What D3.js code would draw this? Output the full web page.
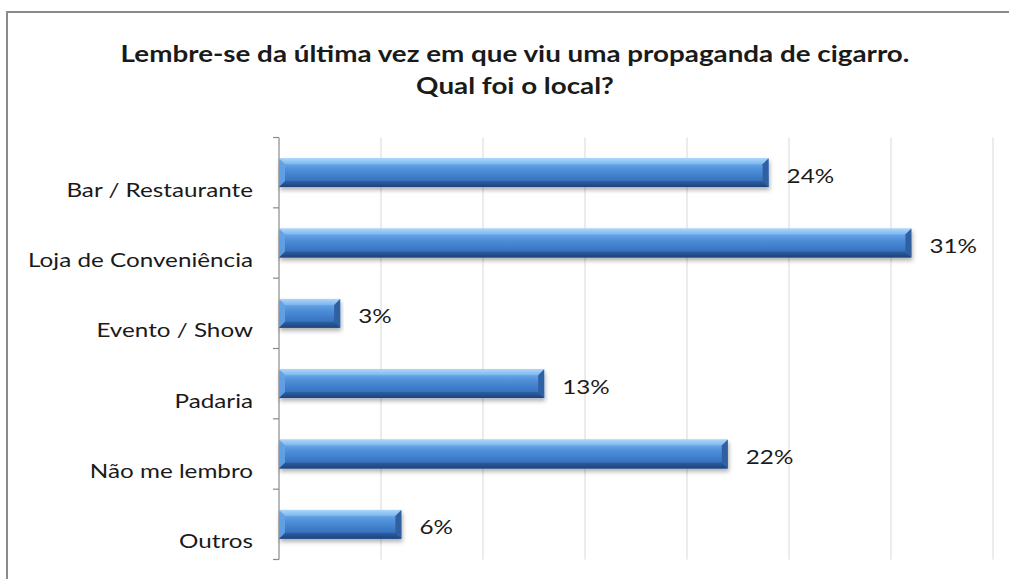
<!DOCTYPE html>
<html>
<head>
<meta charset="utf-8">
<script src="https://cdn.jsdelivr.net/npm/d3@7"></script>
<style>
  html, body { margin: 0; padding: 0; background: #fff; }
  svg { display: block; }
  text { font-family: Lato, "Open Sans", sans-serif; fill: #1a1a1a; }
</style>
</head>
<body>
<script>
// Survey answers: where the last cigarette ad was seen
const categories = ["Bar / Restaurante", "Loja de Conveniência", "Evento / Show", "Padaria", "Não me lembro", "Outros"];
const values = [24, 31, 3, 13, 22, 6];
const valueLabels = ["24%", "31%", "3%", "13%", "22%", "6%"];
const gridTicks = [0, 5, 10, 15, 20, 25, 30, 35];
const titleLines = ["Lembre-se da última vez em que viu uma propaganda de cigarro.", "Qual foi o local?"];

const W = 1009, H = 579;
const svg = d3.select("body").append("svg").attr("width", W).attr("height", H);

const defs = svg.append("defs");
const g = defs.append("linearGradient").attr("id", "barFace").attr("x1", 0).attr("y1", 0).attr("x2", 0).attr("y2", 1);
[[0, "#95c8f4"], [0.12, "#72afea"], [0.35, "#5293dc"], [0.7, "#3b78c6"], [1, "#2d63ad"]]
  .forEach(([o, c]) => g.append("stop").attr("offset", o).attr("stop-color", c));
const gTop = defs.append("linearGradient").attr("id", "bevelTop").attr("x1", 0).attr("y1", 0).attr("x2", 0).attr("y2", 1);
[[0, "#acd6fa"], [1, "#7cb6ee"]].forEach(([o, c]) => gTop.append("stop").attr("offset", o).attr("stop-color", c));
const gBot = defs.append("linearGradient").attr("id", "bevelBot").attr("x1", 0).attr("y1", 0).attr("x2", 0).attr("y2", 1);
[[0, "#2d5fa4"], [1, "#1e4279"]].forEach(([o, c]) => gBot.append("stop").attr("offset", o).attr("stop-color", c));
const shadow = defs.append("filter").attr("id", "shadow").attr("x", "-5%").attr("y", "-30%").attr("width", "110%").attr("height", "170%");
shadow.append("feDropShadow").attr("dx", 1).attr("dy", 3).attr("stdDeviation", 2).attr("flood-color", "#000").attr("flood-opacity", 0.3);

// Chart frame
svg.append("rect").attr("x", 7).attr("y", 12).attr("width", W + 20).attr("height", H + 20)
  .attr("fill", "#fff").attr("stroke", "#8a8a8a").attr("stroke-width", 2);

// Horizontal stretch used for all text (wide, Calibri-like letterforms)
function stretchFor(sample, size, weight, target) {
  const t = svg.append("text").attr("font-size", size).attr("font-weight", weight).text(sample);
  const w = t.node().getComputedTextLength();
  t.remove();
  return target / w;
}

// Title
const titleSize = 23;
const sxTitle = stretchFor(titleLines[0], titleSize, "bold", 789);
svg.append("g").selectAll("text").data(titleLines).join("text")
  .attr("transform", (d, i) => `translate(515,${62 + i * 32}) scale(${sxTitle},1)`)
  .attr("text-anchor", "middle").attr("font-weight", "bold").attr("font-size", titleSize)
  .text(d => d);

const x = d3.scaleLinear().domain([0, 35]).range([279, 993]);
const y = d3.scaleBand().domain(categories).range([137.5, 559.5]).paddingInner(0.59).paddingOuter(0.295);

// Vertical gridlines
svg.append("g").selectAll("line").data(gridTicks.slice(1)).join("line")
  .attr("x1", d => x(d)).attr("x2", d => x(d)).attr("y1", 137.5).attr("y2", 559.5)
  .attr("stroke", "#e6e6e6").attr("stroke-width", 1.5);

// Category axis with ticks between bands
const labelSize = 20;
const sxLabel = stretchFor("Loja de Conveniência", labelSize, "normal", 225);
const axisG = svg.append("g");
axisG.append("line").attr("x1", 279).attr("x2", 279).attr("y1", 137.5).attr("y2", 559.5)
  .attr("stroke", "#8a8a8a").attr("stroke-width", 1.2);
const bounds = d3.range(categories.length + 1).map(i => 137.5 + i * (559.5 - 137.5) / categories.length);
axisG.selectAll("line.tick").data(bounds).join("line").attr("class", "tick")
  .attr("x1", 273).attr("x2", 279).attr("y1", d => d).attr("y2", d => d)
  .attr("stroke", "#8a8a8a").attr("stroke-width", 1.2);
axisG.selectAll("text").data(categories).join("text")
  .attr("transform", d => `translate(253,${y(d) + y.bandwidth() / 2 + 24}) scale(${sxLabel},1)`)
  .attr("text-anchor", "end").attr("font-size", labelSize).text(d => d);

// Bars with bevelled faces
const bars = svg.append("g").selectAll("g").data(values).join("g")
  .attr("filter", "url(#shadow)");
bars.each(function (v, i) {
  const sel = d3.select(this);
  const x0 = x(0), x1 = x(v), y0 = y(categories[i]), y1 = y0 + y.bandwidth();
  const b = Math.min(6, (x1 - x0) / 2);
  sel.append("rect").attr("x", x0).attr("y", y0).attr("width", x1 - x0).attr("height", y1 - y0).attr("fill", "url(#barFace)");
  sel.append("polygon").attr("points", [[x0, y0], [x1, y0], [x1 - b, y0 + b], [x0 + b, y0 + b]].join(" ")).attr("fill", "url(#bevelTop)");
  sel.append("polygon").attr("points", [[x0, y1], [x1, y1], [x1 - b, y1 - b], [x0 + b, y1 - b]].join(" ")).attr("fill", "url(#bevelBot)");
  sel.append("polygon").attr("points", [[x0, y0], [x0 + b, y0 + b], [x0 + b, y1 - b], [x0, y1]].join(" ")).attr("fill", "#64a2e4").attr("opacity", 0.9);
  sel.append("polygon").attr("points", [[x1, y0], [x1 - b, y0 + b], [x1 - b, y1 - b], [x1, y1]].join(" ")).attr("fill", "#2f60a2");
});

// Value labels
svg.append("g").selectAll("text").data(values).join("text")
  .attr("transform", (d, i) => `translate(${x(d) + 18},${y(categories[i]) + y.bandwidth() / 2 + 10}) scale(${sxLabel},1)`)
  .attr("font-size", labelSize).text((d, i) => valueLabels[i]);
</script>
</body>
</html>
